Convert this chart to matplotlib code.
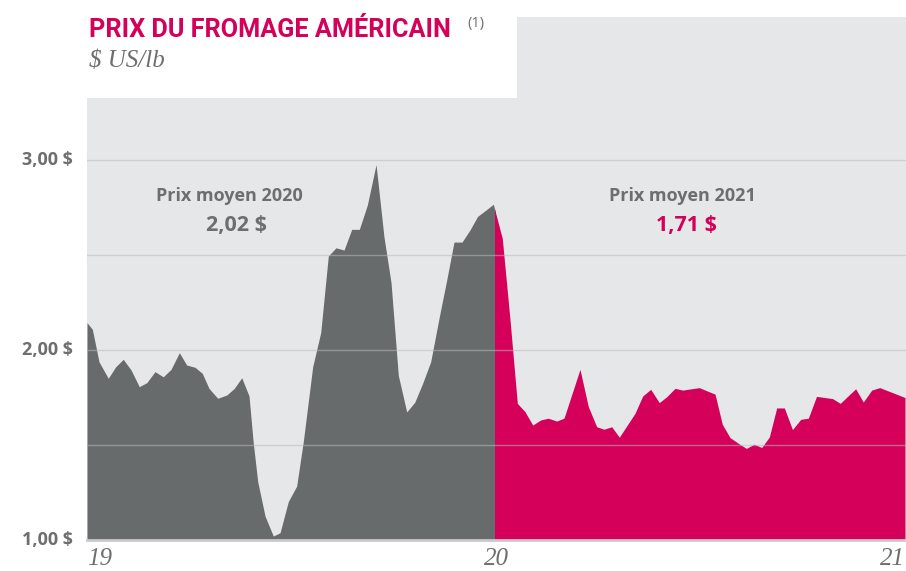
import matplotlib
matplotlib.use("Agg")
import matplotlib.pyplot as plt
from matplotlib.patches import Rectangle

# ---- data (weeks since start of first year, price in $ US/lb) ----
weeks = [0.00, 0.68, 1.53, 2.71, 3.66, 4.62, 5.61, 6.66, 7.61, 8.66, 9.71, 10.70,
         11.76, 12.70, 13.76, 14.69, 15.54, 16.65, 17.80, 18.76, 19.71, 20.64,
         21.18, 21.75, 22.68, 23.73, 24.59, 25.64, 26.71, 27.55, 28.75, 29.77,
         30.74, 31.72, 32.74, 33.72, 34.69, 35.71, 36.82, 37.83, 38.73, 39.66,
         40.73, 41.75, 42.76, 43.78, 44.88, 45.82, 46.75, 47.77, 48.79, 49.75,
         50.83, 51.76, 52.90, 53.89, 54.82, 55.80, 56.78, 57.80, 58.76, 59.83,
         60.76, 62.80, 63.86, 64.93, 65.86, 66.84, 67.81, 69.81, 70.79, 71.81,
         72.90, 73.85, 74.90, 75.89, 78.00, 79.02, 80.00, 80.93, 81.91, 82.97,
         83.99, 84.97, 85.95, 86.92, 87.86, 88.83, 89.87, 90.92, 91.89, 92.93,
         94.99, 95.96, 96.94, 97.92, 98.89, 99.96, 100.98, 104.20]
prices = [2.144, 2.109, 1.938, 1.851, 1.912, 1.951, 1.895, 1.807, 1.828, 1.886,
          1.859, 1.898, 1.986, 1.921, 1.909, 1.877, 1.798, 1.746, 1.763, 1.798,
          1.854, 1.758, 1.511, 1.307, 1.126, 1.021, 1.038, 1.202, 1.284, 1.517,
          1.912, 2.091, 2.495, 2.538, 2.526, 2.635, 2.635, 2.763, 2.976, 2.596,
          2.355, 1.866, 1.674, 1.725, 1.825, 1.938, 2.175, 2.368, 2.568, 2.568,
          2.632, 2.703, 2.737, 2.767, 2.588, 2.158, 1.719, 1.675, 1.605, 1.632,
          1.641, 1.626, 1.641, 1.898, 1.702, 1.596, 1.583, 1.596, 1.541, 1.667,
          1.758, 1.793, 1.723, 1.754, 1.798, 1.789, 1.802, 1.784, 1.768, 1.609,
          1.539, 1.509, 1.482, 1.504, 1.487, 1.542, 1.695, 1.695, 1.581, 1.635,
          1.641, 1.756, 1.744, 1.719, 1.758, 1.796, 1.726, 1.789, 1.802, 1.750]
year_split = 52.0
x_labels = ["19", "20", "21"]
y_ticks = [1.0, 2.0, 3.0]
y_ticklabels = ["1,00 $", "2,00 $", "3,00 $"]
grid_levels = [1.5, 2.0, 2.5, 3.0]
avg_labels = ["Prix moyen 2020", "Prix moyen 2021"]
avg_values = ["2,02 $", "1,71 $"]

GRAY = "#686b6c"
MAGENTA = "#d4005a"
BG = "#e6e7e9"
TXT = "#6d6e70"

W, H = 906, 571
fig = plt.figure(figsize=(W / 100, H / 100), dpi=100)
fig.patch.set_facecolor("white")

def fx(x):
    return x / W

def fy(y):
    return 1 - y / H

ax = fig.add_axes([fx(87), fy(540), fx(906) - fx(87), fy(17) - fy(540)])
ax.set_facecolor(BG)
ax.set_xlim(0, (906 - 87) / 7.85)
ax.set_ylim(1.0, 1 + (540 - 17) / 190)
for s in ax.spines.values():
    s.set_visible(False)
ax.set_xticks([])
ax.set_yticks([])

# fills, split by year via clipping
fg = ax.fill_between(weeks, 1.0, prices, color=GRAY, lw=0, zorder=2)
fr = ax.fill_between(weeks, 1.0, prices, color=MAGENTA, lw=0, zorder=2)
clip_g = Rectangle((0, 0), year_split, 10, transform=ax.transData)
clip_r = Rectangle((year_split, 0), 200, 10, transform=ax.transData)
fg.set_clip_path(clip_g)
fr.set_clip_path(clip_r)

for g in grid_levels:
    ax.axhline(g, color="#b8babc", lw=1.0, alpha=0.55, zorder=3)
ax.axhline(1.0, color="#c9cacc", lw=2.0, zorder=3, clip_on=False)

# y tick labels
for v, lab in zip(y_ticks, y_ticklabels):
    ax.text(-14 / 7.85, v, lab, ha="right", va="center", fontsize=13,
            fontweight="bold", color=TXT, family="Open Sans")

# x labels (below the axis)
xl_px = [87, 496, 905]
for px_, lab, ha in zip(xl_px, x_labels, ["left", "center", "right"]):
    fig.text(fx(px_), fy(559), lab, ha=ha, va="center", fontsize=18,
             style="italic", color=TXT, family="Liberation Serif")

# white title box
fig.patches.append(Rectangle((0, fy(98)), fx(517), 1 - fy(98),
                             transform=fig.transFigure, facecolor="white",
                             edgecolor="none", zorder=5))

fig.text(fx(89), fy(30), "PRIX DU FROMAGE AMÉRICAIN", ha="left", va="center",
         fontsize=18.2, fontweight="bold", color=MAGENTA,
         family="Roboto", zorder=6)
fig.text(fx(467), fy(24), "(1)", ha="left", va="center", fontsize=10.5,
         color=TXT, family="Open Sans", zorder=6)
fig.text(fx(89), fy(61), "$ US/lb", ha="left", va="center", fontsize=18,
         style="italic", color=TXT, family="Liberation Serif", zorder=6)

# average annotations
fig.text(fx(229), fy(196), avg_labels[0], ha="center", va="center",
         fontsize=13, fontweight="bold", color=TXT, family="Open Sans", zorder=6)
fig.text(fx(236), fy(225), avg_values[0], ha="center", va="center",
         fontsize=15.5, fontweight="bold", color=TXT, family="Open Sans", zorder=6)
fig.text(fx(682), fy(196), avg_labels[1], ha="center", va="center",
         fontsize=13, fontweight="bold", color=TXT, family="Open Sans", zorder=6)
fig.text(fx(686), fy(225), avg_values[1], ha="center", va="center",
         fontsize=15.5, fontweight="bold", color=MAGENTA, family="Open Sans", zorder=6)

fig.savefig("out.png", dpi=100, facecolor="white")
